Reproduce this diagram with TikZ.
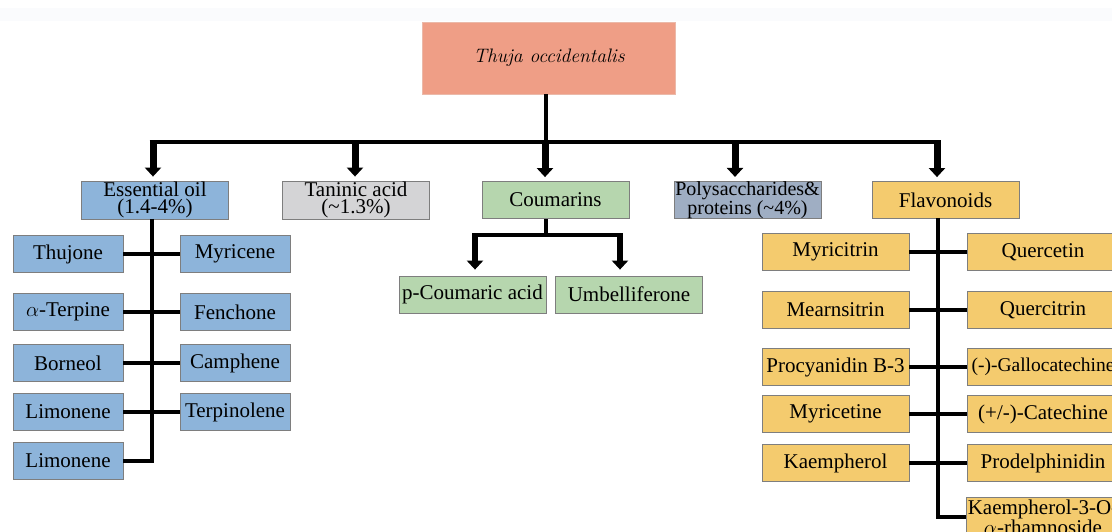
\documentclass[tikz,border=0pt]{standalone}
\usepackage{fontspec}
\setmainfont{Liberation Serif}
\newfontfamily\lmroman{Latin Modern Roman}
\usetikzlibrary{arrows.meta}
\definecolor{rootfill}{HTML}{EF9E86}
\definecolor{rootline}{HTML}{EBB9A9}
\definecolor{oilblue}{HTML}{8DB4DA}
\definecolor{tangray}{HTML}{D4D4D6}
\definecolor{coumgreen}{HTML}{B6D6AE}
\definecolor{polyslate}{HTML}{9FAEC3}
\definecolor{flavyellow}{HTML}{F4CB6E}
\definecolor{boxline}{HTML}{7E7E7E}
\definecolor{topband}{HTML}{FAFBFD}
\tikzset{
  box/.style={draw=boxline, line width=0.8pt, minimum height=37pt, inner sep=1pt,
    align=center, font=\fontsize{21}{17}\selectfont},
  narrow/.style={box, minimum width=110pt},
  wide/.style={box, minimum width=147pt},
  link/.style={line width=3.5pt},
  bigarrow/.style={line width=7pt, -{Triangle[width=16pt,length=9pt]}},
}

\begin{document}
\begin{tikzpicture}[x=1pt,y=-1pt]
  %%%%% START %%%%%
  \useasboundingbox (0,0) rectangle (1112,532);
  \fill[topband] (0,8) rectangle (1112,21);

  \node[box, draw=rootline, fill=rootfill, minimum width=253pt, minimum height=72pt,
    font=\fontsize{19.5}{19}\lmroman\itshape] (root) at (549,58) {Thuja occidentalis};

  \node[wide, fill=oilblue] (essoil) at (155,200) {Essential oil\\(1.4-4\%)};
  \node[wide, fill=tangray] (tanin) at (356,200) {Taninic acid\\(\textasciitilde1.3\%)};
  \node[wide, fill=coumgreen] (coum) at (555.5,200) {Coumarins};
  \node[wide, fill=polyslate, inner sep=0pt, font=\fontsize{20}{17}\selectfont] (polysac) at (747.5,200)
    {Polysaccharides\&\\proteins (\textasciitilde4\%)};
  \node[wide, fill=flavyellow] (flavo) at (945.5,200) {Flavonoids};

  % main stem and bar
  \coordinate (stem) at (546,142);
  \draw[link] (stem |- root.south) -- (stem);
  \coordinate (barL) at (149.5,142);
  \coordinate (barR) at (940.5,142);
  \draw[link] (barL) -- (barR);
  \foreach \n/\x in {essoil/153, tanin/355, coum/545, polysac/735, flavo/937}{
    \coordinate (in-\n) at (\x,140.5);
    \draw[bigarrow, shorten >=4pt] (in-\n) -- (in-\n |- \n.north);
  }

  % essential oil
  \node[narrow, fill=oilblue] (thujone) at (68,254) {Thujone};
  \node[narrow, fill=oilblue] (aterp) at (68,312) {$\alpha$-Terpine};
  \node[narrow, fill=oilblue] (borneol) at (68,363) {Borneol};
  \node[narrow, fill=oilblue] (limoA) at (68,412) {Limonene};
  \node[narrow, fill=oilblue] (limoB) at (68,461) {Limonene};
  \node[narrow, fill=oilblue] (myrcene) at (235,254) {Myricene};
  \node[narrow, fill=oilblue] (fenchone) at (235,312) {Fenchone};
  \node[narrow, fill=oilblue] (camphene) at (235,363) {Camphene};
  \node[narrow, fill=oilblue] (terpinol) at (235,412) {Terpinolene};

  \coordinate (oiltop) at (152,219);
  \draw[link] (oiltop) |- (limoB.east);
  \foreach \a/\b in {thujone/myrcene, aterp/fenchone, borneol/camphene, limoA/terpinol}
    \draw[link] (\a.east) -- (\a.east -| \b.west);

  % coumarins
  \node[wide, fill=coumgreen, inner sep=0pt] (pcoum) at (472.5,294.5) {p-Coumaric acid};
  \node[wide, fill=coumgreen] (umbel) at (629,294.5) {Umbelliferone};
  \coordinate (cj) at (546,235);
  \draw[link] (cj |- coum.south) -- (cj);
  \coordinate (cl) at (475,233.5);
  \coordinate (cr) at (620,233.5);
  \draw[link] ([xshift=-3pt]cl |- cj) -- ([xshift=3pt]cr |- cj);
  \draw[bigarrow, line width=6pt, shorten >=6pt] (cl) -- (cl |- pcoum.north);
  \draw[bigarrow, line width=6pt, shorten >=6pt] (cr) -- (cr |- umbel.north);

  % flavonoids
  \node[wide, fill=flavyellow] (myricitrin) at (835.5,252) {Myricitrin};
  \node[wide, fill=flavyellow] (mearns) at (835.5,310) {Mearnsitrin};
  \node[wide, fill=flavyellow] (procy) at (835.5,367) {Procyanidin B-3};
  \node[wide, fill=flavyellow] (myricetine) at (835.5,414) {Myricetine};
  \node[wide, fill=flavyellow] (kaemph) at (835.5,463) {Kaempherol};
  \node[box, minimum width=152pt, fill=flavyellow] (quercetin) at (1043,252) {Quercetin};
  \node[box, minimum width=152pt, fill=flavyellow] (quercitrin) at (1043,310) {Quercitrin};
  \node[box, minimum width=152pt, fill=flavyellow, font=\fontsize{19.5}{17}\selectfont] (gallo) at (1043,367) {(-)-Gallocatechine};
  \node[box, minimum width=152pt, fill=flavyellow] (catech) at (1043,414) {(+/-)-Catechine};
  \node[box, minimum width=152pt, fill=flavyellow] (prodel) at (1043,463) {Prodelphinidin};
  \node[box, minimum width=152pt, minimum height=40pt, fill=flavyellow] (kaemrham) at (1043,517)
    {Kaempherol-3-O-\\$\alpha$-rhamnoside};

  \coordinate (flatop) at (938,218);
  \draw[link] (flatop) |- (kaemrham.west);
  \foreach \a/\b in {myricitrin/quercetin, mearns/quercitrin, procy/gallo, myricetine/catech, kaemph/prodel}
    \draw[link] (\a.east) -- (\a.east -| \b.west);
  %%%%% END %%%%%
\end{tikzpicture}
\end{document}
